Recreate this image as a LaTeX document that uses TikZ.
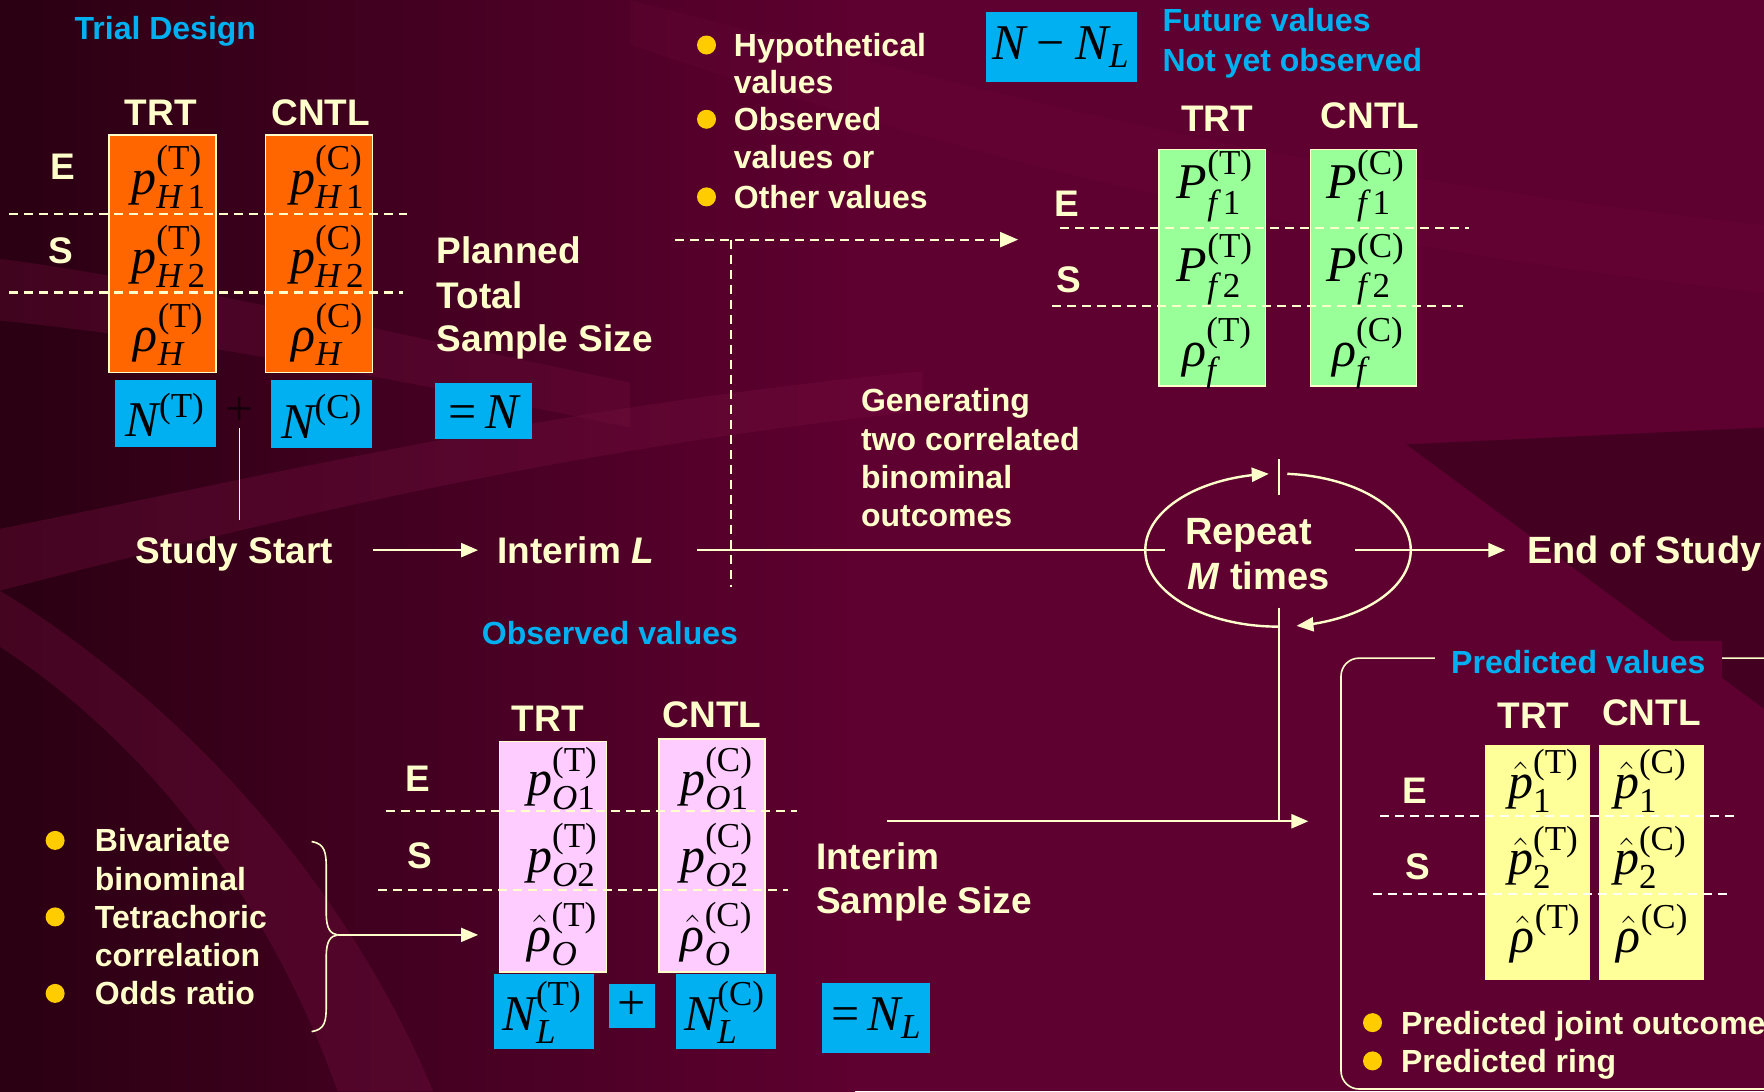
\documentclass[tikz,border=0pt]{standalone}
\usepackage{amsmath}
\usepackage[no-math]{fontspec}
\setmainfont{Liberation Sans}
\newfontfamily\tms{Liberation Serif}
\usetikzlibrary{arrows.meta,calc}

\definecolor{bgbase}{HTML}{5E0030}
\definecolor{bgdark}{HTML}{2A0012}
\definecolor{bglite}{HTML}{76103F}
\definecolor{cream}{HTML}{FFFFCC}
\definecolor{skyb}{HTML}{00B0F0}
\definecolor{orng}{HTML}{FF6600}
\definecolor{lgreen}{HTML}{99FF99}
\definecolor{lpink}{HTML}{FFCCFF}
\definecolor{lyell}{HTML}{FFFF99}
\definecolor{dotc}{HTML}{FFCC00}

% italic / upright Times-like pieces inside formulas
\newcommand\mi[1]{\text{\tms\itshape #1}}
\newcommand\mr[1]{\text{\tms #1}}

\tikzset{
  big/.style={font=\bfseries\fontsize{18.5}{22}\selectfont, text=cream, inner sep=0pt,
              text height=13.25pt, text depth=0pt, anchor=west},
  sm/.style={font=\bfseries\fontsize{16}{19}\selectfont, text=cream, inner sep=0pt,
             text height=11.46pt, text depth=0pt, anchor=west},
  cyantxt/.style={sm, text=skyb},
  hdr/.style={big, anchor=center},
  mth/.style={font=\fontsize{25}{30}\selectfont, inner sep=0pt, text=black},
  conn/.style={draw=cream, line width=1.2pt},
  thinl/.style={draw=cream, line width=0.8pt},
  arr/.style={conn, -{Triangle[length=8.5pt,width=7pt]}},
  dsh/.style={draw=cream, line width=1.05pt, dash pattern=on 4.5pt off 3pt},
  dsharr/.style={dsh, -{Triangle[length=9pt,width=7.5pt]}},
  bulletdot/.style={fill=dotc, circle, inner sep=0pt, minimum size=9.5pt},
  obox/.style={fill=orng, draw=cream, line width=0.8pt},
  gbox/.style={fill=lgreen, draw=cream, line width=0.8pt},
  pbox/.style={fill=lpink, draw=cream, line width=0.8pt},
  ybox/.style={fill=lyell},
  bbox/.style={fill=skyb},
}

\begin{document}
\begin{tikzpicture}[x=0.5625pt, y=-0.5625pt]
\useasboundingbox (0,0) rectangle (1568,970);
\clip (0,0) rectangle (1568,970);

% ---------- background ----------
\fill[bgbase] (0,0) rectangle (1568,970);
\shade[left color=bgdark, right color=bgbase] (0,0) rectangle (760,970);
\fill[bglite, opacity=0.35] (0,470) .. controls (250,420) and (500,360) .. (820,330)
   -- (820,365) .. controls (500,400) and (250,460) .. (0,525) -- cycle;
\fill[bglite, opacity=0.35] (0,575) .. controls (130,660) and (240,800) .. (300,970)
   -- (385,970) .. controls (310,790) and (170,630) .. (0,525) -- cycle;
\fill[bglite, opacity=0.3] (0,230) .. controls (150,250) and (320,290) .. (560,340)
   -- (560,380) .. controls (320,330) and (150,300) .. (0,285) -- cycle;
\fill[bglite, opacity=0.15] (560,0) .. controls (800,60) and (1100,150) .. (1568,200)
   -- (1568,260) .. controls (1100,210) and (800,120) .. (560,40) -- cycle;
\fill[bgdark, opacity=0.5] (1250,395) -- (1568,380) -- (1568,630) -- cycle;

% ---------- Trial design (top left) ----------
\node[cyantxt] (trial) at (66,25) {Trial Design};
\node[hdr] (hT1) at (143,100) {TRT};
\node[hdr] (hC1) at (285,100) {CNTL};
\draw[obox] (97,120) rectangle (192,331);
\draw[obox] (236,120) rectangle (331,331);
\node[big, anchor=center] (e1) at (56,148) {E};
\node[big, anchor=center] (s1) at (54,222) {S};
\draw[dsh] (8,190) -- (362,190);
\draw[dsh] (8,260) -- (358,260);
\node[mth] (pH1T) at (150,157) {$\mi{p}^{\mr{(T)}}_{\mi{H}\,\mr{1}}$};
\node[mth] (pH2T) at (150,228) {$\mi{p}^{\mr{(T)}}_{\mi{H}\,\mr{2}}$};
\node[mth] (rHT)  at (150,297) {$\mi{ρ}^{\mr{(T)}}_{\mi{H}}$};
\node[mth] (pH1C) at (291,157) {$\mi{p}^{\mr{(C)}}_{\mi{H}\,\mr{1}}$};
\node[mth] (pH2C) at (291,228) {$\mi{p}^{\mr{(C)}}_{\mi{H}\,\mr{2}}$};
\node[mth] (rHC)  at (291,297) {$\mi{ρ}^{\mr{(C)}}_{\mi{H}}$};
\fill[bbox] (102,338) rectangle (192,397);
\fill[bbox] (241,338) rectangle (331,398);
\fill[bbox] (387,340) rectangle (473,390);
\node[mth] (NT) at (147,369) {$\mi{N}^{\mr{(T)}}$};
\node[mth] (NC) at (286,370) {$\mi{N}^{\mr{(C)}}$};
\node[mth, text=black!80!bgbase] (plus) at (213,366) {$\mr{+}$};
\node[mth] (Ntot) at (430,366) {$\mr{=}\,\mi{N}$};
\node[big] (pl1) at (388,222) {Planned};
\node[big] (pl2) at (388,262) {Total};
\node[big] (pl3) at (388,301) {Sample Size};

% ---------- value sources ----------
\node[bulletdot] (b1) at (628,40) {};
\node[bulletdot] (b2) at (628,106) {};
\node[bulletdot] (b3) at (628,175) {};
\node[sm] (h1) at (652,40) {Hypothetical};
\node[sm] (h2) at (652,73) {values};
\node[sm] (h3) at (652,106) {Observed};
\node[sm] (h4) at (652,140) {values or};
\node[sm] (h5) at (652,175) {Other values};

% ---------- future values (top right) ----------
\fill[bbox] (876,11) rectangle (1011,73);
\node[mth] (NmNL) at (943,42) {$\mi{N}\mathbin{\mr{−}}\mi{N}_{\mi{L}}$};
\node[cyantxt] (fut1) at (1033,18) {Future values};
\node[cyantxt] (fut2) at (1033,53) {Not yet observed};
\node[hdr] (hT2) at (1082,105) {TRT};
\node[hdr] (hC2) at (1218,102) {CNTL};
\draw[gbox] (1030,133) rectangle (1125,343);
\draw[gbox] (1165,133) rectangle (1259,343);
\node[big, anchor=center] (e2) at (948,181) {E};
\node[big, anchor=center] (s2) at (950,248) {S};
\draw[dsh] (942,203) -- (1306,203);
\draw[dsh] (935,272) -- (1300,272);
\node[mth] (Pf1T) at (1080,165) {$\mi{P}^{\mr{(T)}}_{\mi{f}\,\mr{1}}$};
\node[mth] (Pf2T) at (1080,239) {$\mi{P}^{\mr{(T)}}_{\mi{f}\,\mr{2}}$};
\node[mth] (rfT)  at (1082,314) {$\mi{ρ}^{\mr{(T)}}_{\mi{f}}$};
\node[mth] (Pf1C) at (1214,165) {$\mi{P}^{\mr{(C)}}_{\mi{f}\,\mr{1}}$};
\node[mth] (Pf2C) at (1214,239) {$\mi{P}^{\mr{(C)}}_{\mi{f}\,\mr{2}}$};
\node[mth] (rfC)  at (1216,314) {$\mi{ρ}^{\mr{(C)}}_{\mi{f}}$};

% dashed feed of the values into the simulation
\coordinate (dsA) at (600,213);
\coordinate (dsB) at (905,213);
\coordinate (dvA) at (650,213);
\coordinate (dvB) at (650,522);
\draw[dsharr] (dsA) -- (dsB);
\draw[dsh] (dvA) -- (dvB);

% ---------- generating / timeline ----------
\node[sm] (g1) at (765,356) {Generating};
\node[sm] (g2) at (765,390) {two correlated};
\node[sm] (g3) at (765,424) {binominal};
\node[sm] (g4) at (765,458) {outcomes};

\node[big] (start) at (120,489) {Study Start};
\node[big] (intL) at (442,489) {Interim \textit{L}};
\node[fill=bgbase, inner sep=0pt, minimum width=94.5pt, minimum height=50pt] (repbox) at (1120,489) {};
\node[big, font=\bfseries\fontsize{19}{22}\selectfont] (rep1) at (1053,472) {Repeat};
\node[big, font=\bfseries\fontsize{19}{22}\selectfont] (rep2) at (1055,512) {\textit{M} times};
\node[big, font=\bfseries\fontsize{19}{22}\selectfont] (eos) at (1357,489) {End of Study};

\draw[arr, shorten <=19.7pt, shorten >=9.6pt] (start) -- (intL);
\draw[conn, shorten <=21.4pt] (intL) -- (repbox);
\draw[arr, shorten >=10.7pt] (repbox) -- (eos);
\draw[thinl, shorten <=1pt, shorten >=8pt] (plus.south) -- (plus.south |- start.north);

% repetition loop
\draw[conn, -{Triangle[length=8.5pt,width=7pt]}] plot[domain=90:266, samples=70]
   ({1136+118*cos(\x)},{489+68*sin(\x)});
\draw[conn, -{Triangle[length=8.5pt,width=7pt]}] plot[domain=274:442, samples=70]
   ({1136+118*cos(\x)},{489+68*sin(\x)});
\coordinate (tickA) at (1137,408);
\coordinate (tickB) at (1137,440);
\coordinate (loopOut) at (1137,540);
\coordinate (loopJoin) at (1137,730);
\coordinate (obsOut) at (788,730);
\coordinate (predIn) at (1163,730);
\draw[conn] (tickA) -- (tickB);
\draw[conn] (loopOut) -- (loopJoin);
\draw[arr] (obsOut) -- (predIn);

% ---------- observed values (bottom) ----------
\node[cyantxt] (obsT) at (428,563) {Observed values};
\node[hdr] (hT3) at (487,638) {TRT};
\node[hdr] (hC3) at (633,635) {CNTL};
\draw[pbox] (444,659) rectangle (539,864);
\draw[pbox] (586,657) rectangle (680,864);
\node[big, anchor=center] (e3) at (371,692) {E};
\node[big, anchor=center] (s3) at (373,760) {S};
\draw[dsh] (343,721) -- (708,721);
\draw[dsh] (336,791) -- (700,791);
\node[mth] (pO1T) at (500,692) {$\mi{p}^{\mr{(T)}}_{\mi{O}\mr{1}}$};
\node[mth] (pO2T) at (500,760) {$\mi{p}^{\mr{(T)}}_{\mi{O}\mr{2}}$};
\node[mth] (rOT)  at (500,830) {$\hat{\mi{ρ}}^{\mr{(T)}}_{\mi{O}}$};
\node[mth] (pO1C) at (637,692) {$\mi{p}^{\mr{(C)}}_{\mi{O}\mr{1}}$};
\node[mth] (pO2C) at (637,760) {$\mi{p}^{\mr{(C)}}_{\mi{O}\mr{2}}$};
\node[mth] (rOC)  at (637,830) {$\hat{\mi{ρ}}^{\mr{(C)}}_{\mi{O}}$};
\fill[bbox] (439,866) rectangle (528,932);
\fill[bbox] (541,875) rectangle (582,914);
\fill[bbox] (601,866) rectangle (690,932);
\fill[bbox] (731,874) rectangle (827,936);
\node[mth] (NLT) at (482,900) {$\mi{N}^{\mr{(T)}}_{\mi{L}}$};
\node[mth] (plusL) at (561,894) {$\mr{+}$};
\node[mth] (NLC) at (644,900) {$\mi{N}^{\mr{(C)}}_{\mi{L}}$};
\node[mth] (NL) at (779,905) {$\mr{=}\,\mi{N}_{\mi{L}}$};
\node[big] (is1) at (725,761) {Interim};
\node[big] (is2) at (725,800) {Sample Size};

% estimation methods
\node[bulletdot] (c1) at (49,747) {};
\node[bulletdot] (c2) at (49,815) {};
\node[bulletdot] (c3) at (49,883) {};
\node[sm] (m1) at (84,747) {Bivariate};
\node[sm] (m2) at (84,781) {binominal};
\node[sm] (m3) at (84,815) {Tetrachoric};
\node[sm] (m4) at (84,849) {correlation};
\node[sm] (m5) at (84,883) {Odds ratio};
\coordinate (braceTip) at (300,831);
\coordinate (braceTo) at (425,831);
\draw[thinl] (277,748) .. controls (289,750) and (290,758) .. (290,772) -- (290,812)
   .. controls (290,826) and (294,830) .. (braceTip)
   .. controls (294,832) and (290,836) .. (290,850) -- (290,893)
   .. controls (290,908) and (289,915) .. (277,917);
\draw[thinl, -{Triangle[length=8.5pt,width=7pt]}] (braceTip) -- (braceTo);

% ---------- predicted values (bottom right) ----------
\draw[thinl, rounded corners=9pt] (1600,585) -- (1192,585) -- (1192,968) -- (1600,968);
\node[cyantxt, anchor=center, fill=bgbase, inner xsep=8pt, inner ysep=5pt,
      text depth=4pt] (predT) at (1403,592) {Predicted values};
\node[hdr] (hT4) at (1363,636) {TRT};
\node[hdr] (hC4) at (1468,633) {CNTL};
\fill[ybox] (1320,662) rectangle (1413,871);
\fill[ybox] (1421,662) rectangle (1515,871);
\node[big, anchor=center] (e4) at (1258,702) {E};
\node[big, anchor=center] (s4) at (1260,770) {S};
\draw[dsh, draw=white!90!lyell] (1227,725) -- (1545,725);
\draw[dsh, draw=white!90!lyell] (1220,795) -- (1537,795);
\node[mth] (q1T) at (1372,694) {$\hat{\mi{p}}^{\mr{(T)}}_{\mr{1}}$};
\node[mth] (q2T) at (1372,762) {$\hat{\mi{p}}^{\mr{(T)}}_{\mr{2}}$};
\node[mth] (qrT) at (1374,830) {$\hat{\mi{ρ}}^{\mr{(T)}}$};
\node[mth] (q1C) at (1467,694) {$\hat{\mi{p}}^{\mr{(C)}}_{\mr{1}}$};
\node[mth] (q2C) at (1467,762) {$\hat{\mi{p}}^{\mr{(C)}}_{\mr{2}}$};
\node[mth] (qrC) at (1469,830) {$\hat{\mi{ρ}}^{\mr{(C)}}$};
\node[bulletdot] (d1) at (1220,909) {};
\node[bulletdot] (d2) at (1220,943) {};
\node[sm] (r1) at (1245,909) {Predicted joint outcome};
\node[sm] (r2) at (1245,943) {Predicted ring};
\end{tikzpicture}
\end{document}
